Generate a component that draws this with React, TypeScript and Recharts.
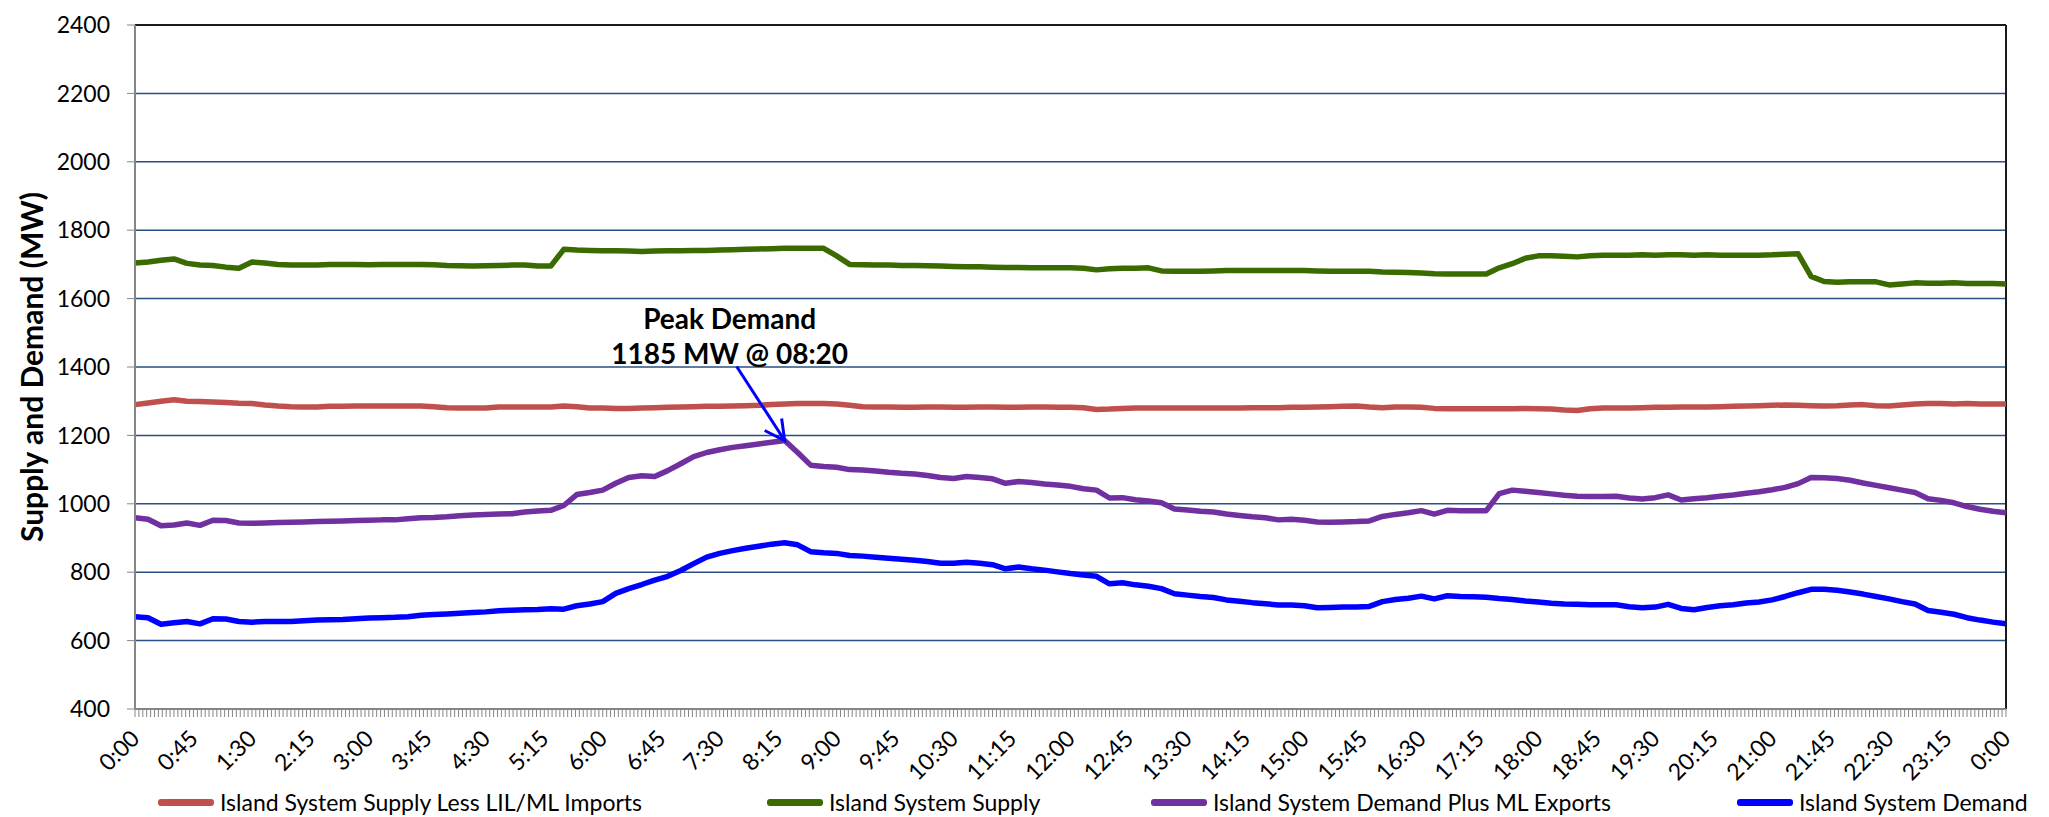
import React from 'react';
import { LineChart, Line, XAxis, YAxis, CartesianGrid, ReferenceLine, ReferenceDot, Label } from 'recharts';

// readings every 10 minutes, 0:00 to 0:00 next day
const SAMPLE_STEP = 10;

const supplyLessImports = [
  1290, 1295, 1300, 1304, 1300, 1299, 1298, 1296, 1294, 1293,
  1289, 1286, 1284, 1283, 1283, 1285, 1285, 1286, 1286, 1286,
  1286, 1286, 1286, 1284, 1281, 1280, 1280, 1280, 1283, 1283,
  1283, 1283, 1283, 1286, 1284, 1280, 1280, 1279, 1279, 1280,
  1281, 1282, 1283, 1284, 1285, 1285, 1286, 1287, 1288, 1290,
  1292, 1293, 1293, 1293, 1292, 1288, 1284, 1283, 1283, 1282,
  1282, 1283, 1283, 1282, 1282, 1283, 1283, 1282, 1282, 1283,
  1283, 1282, 1282, 1281, 1276, 1277, 1279, 1280, 1280, 1280,
  1280, 1280, 1280, 1280, 1280, 1280, 1281, 1281, 1281, 1282,
  1282, 1283, 1284, 1285, 1286, 1283, 1281, 1283, 1283, 1282,
  1279, 1278, 1278, 1278, 1278, 1278, 1278, 1279, 1278, 1277,
  1274, 1273, 1278, 1280, 1280, 1280, 1281, 1282, 1282, 1283,
  1283, 1283, 1284, 1285, 1286, 1287, 1288, 1289, 1288, 1287,
  1286, 1287, 1289, 1290, 1287, 1286, 1289, 1292, 1293, 1293,
  1292, 1293, 1292, 1292, 1292,
];

const supply = [
  1704, 1707, 1712, 1716, 1703, 1698, 1697, 1692, 1689, 1707,
  1704, 1700, 1698, 1698, 1698, 1700, 1700, 1700, 1699, 1700,
  1700, 1700, 1700, 1699, 1697, 1696, 1695, 1696, 1697, 1698,
  1698, 1695, 1695, 1744, 1742, 1741, 1740, 1740, 1739, 1738,
  1739, 1740, 1740, 1741, 1741, 1742, 1743, 1744, 1745, 1746,
  1747, 1747, 1747, 1747, 1725, 1700, 1699, 1698, 1698, 1697,
  1697, 1696, 1695, 1694, 1693, 1693, 1692, 1691, 1691, 1690,
  1690, 1690, 1690, 1689, 1684, 1687, 1689, 1689, 1690, 1681,
  1680, 1680, 1680, 1681, 1682, 1682, 1682, 1682, 1682, 1682,
  1682, 1681, 1680, 1680, 1680, 1680, 1678, 1677, 1676, 1675,
  1673, 1672, 1672, 1672, 1672, 1690, 1702, 1718, 1725, 1725,
  1724, 1722, 1725, 1727, 1727, 1727, 1728, 1727, 1728, 1728,
  1727, 1728, 1727, 1727, 1727, 1727, 1728, 1730, 1731, 1665,
  1650, 1648, 1649, 1649, 1649, 1640, 1643, 1646, 1645, 1645,
  1646, 1644, 1644, 1644, 1643,
];

const demandPlusExports = [
  959, 955, 936, 938, 944, 937, 952, 951, 944, 943,
  944, 945, 946, 947, 948, 949, 950, 951, 952, 953,
  953, 956, 959, 960, 962, 965, 967, 969, 970, 971,
  976, 979, 981, 995, 1027, 1033, 1040, 1060, 1077, 1082,
  1080, 1097, 1117, 1138, 1150, 1158, 1165, 1170, 1175, 1180,
  1185, 1150, 1113, 1109, 1107, 1100, 1099, 1096, 1092, 1089,
  1087, 1083, 1077, 1074, 1080, 1077, 1073, 1060, 1065, 1062,
  1058, 1055, 1051, 1044, 1040, 1017, 1018, 1012, 1008, 1003,
  985, 982, 978, 976, 970, 966, 962, 959, 953, 955,
  952, 947, 946, 947, 948, 950, 963, 969, 974, 980,
  970, 981, 980, 980, 980, 1030, 1040, 1037, 1033, 1029,
  1025, 1022, 1021, 1021, 1022, 1017, 1014, 1018, 1026, 1011,
  1015, 1018, 1022, 1026, 1031, 1035, 1041, 1048, 1059, 1077,
  1076, 1074, 1069, 1061, 1054, 1047, 1040, 1033, 1015, 1010,
  1003, 992, 984, 978, 974,
];

const demand = [
  670, 667, 648, 652, 656, 649, 664, 663, 656, 654,
  656, 656, 656, 658, 660, 661, 662, 664, 666, 667,
  668, 670, 674, 676, 678, 680, 682, 684, 687, 689,
  690, 691, 693, 692, 702, 707, 714, 738, 752, 764,
  777, 788, 805, 825, 844, 855, 863, 870, 876, 882,
  886, 880, 860, 857, 855, 849, 847, 844, 841, 838,
  835, 831, 826, 826, 829, 826, 822, 810, 815, 810,
  806, 801, 796, 792, 788, 766, 769, 763, 759, 752,
  737, 733, 729, 726, 719, 715, 711, 708, 704, 704,
  702, 696, 697, 698, 698, 700, 714, 720, 724, 730,
  722, 731, 729, 728, 727, 723, 720, 716, 713, 709,
  707, 706, 705, 705, 705, 699, 696, 698, 706, 694,
  690, 697, 702, 705, 710, 713, 719, 729, 740, 750,
  750, 747, 742, 736, 729, 722, 714, 707, 688, 683,
  677, 667, 660, 654, 649,
];

// labelled ticks every 45 minutes
const LABEL_STEP = 45;
const X_TICK_LABELS = [
  '0:00', '0:45', '1:30', '2:15', '3:00', '3:45', '4:30', '5:15', '6:00', '6:45', '7:30',
  '8:15', '9:00', '9:45', '10:30', '11:15', '12:00', '12:45', '13:30', '14:15', '15:00',
  '15:45', '16:30', '17:15', '18:00', '18:45', '19:30', '20:15', '21:00', '21:45', '22:30',
  '23:15', '0:00',
];
const Y_TICKS = [400, 600, 800, 1000, 1200, 1400, 1600, 1800, 2000, 2200, 2400];

const PEAK_MINUTE = 500;
const PEAK_VALUE = 1185;
const PEAK_TEXT = ['Peak Demand', '1185 MW @ 08:20'];

const SERIES = [
  { key: 'supplyLessImports', name: 'Island System Supply Less LIL/ML Imports', color: '#C0504D' },
  { key: 'supply', name: 'Island System Supply', color: '#3A6B00' },
  { key: 'demandPlusExports', name: 'Island System Demand Plus ML Exports', color: '#7030A0' },
  { key: 'demand', name: 'Island System Demand', color: '#0000FF' },
];

const data = demand.map((_, i) => ({
  t: i * SAMPLE_STEP,
  supplyLessImports: supplyLessImports[i],
  supply: supply[i],
  demandPlusExports: demandPlusExports[i],
  demand: demand[i],
}));

const DAY = (X_TICK_LABELS.length - 1) * LABEL_STEP;
const minorTicks: number[] = [];
for (let m = 0; m <= DAY; m += 3) minorTicks.push(m);

const FONT = 'Lato, "Noto Sans", sans-serif';
const AXIS_GREY = '#868686';
const GRID = '#2A4F82';

function TimeTick(props: any) {
  const { x, y, payload } = props;
  const idx = payload.value / LABEL_STEP;
  if (!Number.isInteger(idx)) return null;
  const ax = x + 6;
  const ay = y + 21;
  return (
    <text x={ax} y={ay} transform={`rotate(-45 ${ax} ${ay})`} textAnchor="end"
      fontFamily={FONT} fontSize={23} fill="#000">
      {X_TICK_LABELS[idx]}
    </text>
  );
}

function PeakCallout(props: any) {
  const { cx, cy } = props;
  const sx = cx - 48;
  const sy = cy - 74;
  return (
    <g>
      <line x1={sx} y1={sy} x2={cx} y2={cy} stroke="#0000FF" strokeWidth={3} />
      <polyline points={`${cx - 3},${cy - 22} ${cx},${cy} ${cx - 20},${cy - 10}`}
        fill="none" stroke="#0000FF" strokeWidth={3} />
      <text x={cx - 55} y={cy - 112} textAnchor="middle" fontFamily={FONT} fontWeight="bold" fontSize={28} fill="#000">
        {PEAK_TEXT[0]}
      </text>
      <text x={cx - 55} y={cy - 77} textAnchor="middle" fontFamily={FONT} fontWeight="bold" fontSize={28} fill="#000">
        {PEAK_TEXT[1]}
      </text>
    </g>
  );
}

const LEGEND_X = [158, 767, 1151, 1737];

function ChartLegend() {
  return (
    <div style={{ position: 'absolute', left: 0, top: 787, width: 2049, height: 30 }}>
      {SERIES.map((s, i) => (
        <div key={s.key} style={{ position: 'absolute', left: LEGEND_X[i], top: 0, display: 'flex', alignItems: 'center', height: 30 }}>
          <div style={{ width: 56, height: 7, background: s.color, borderRadius: 3, marginRight: 6 }} />
          <span style={{ fontFamily: FONT, fontSize: 23, color: '#000', whiteSpace: 'nowrap' }}>{s.name}</span>
        </div>
      ))}
    </div>
  );
}

export default function App() {
  return (
    <div style={{ position: 'absolute', left: 0, top: 0, width: 2049, height: 817, background: '#fff' }}>
      <LineChart width={2049} height={817} data={data} margin={{ top: 25, right: 43, bottom: 0, left: 0 }}>
        <CartesianGrid vertical={false} stroke={GRID} strokeWidth={1.5}
          horizontalValues={Y_TICKS.slice(1, -1)} />
        <XAxis dataKey="t" type="number" domain={[0, DAY]} ticks={minorTicks} interval={0}
          height={108} tickSize={8} tickLine={{ stroke: AXIS_GREY }}
          axisLine={{ stroke: AXIS_GREY, strokeWidth: 2 }} tick={<TimeTick />} />
        <YAxis domain={[400, 2400]} ticks={Y_TICKS} interval={0} width={135} tickSize={8} tickMargin={17}
          tickLine={{ stroke: AXIS_GREY }} axisLine={{ stroke: AXIS_GREY, strokeWidth: 2 }}
          tick={{ fontFamily: FONT, fontSize: 23, fill: '#000' }}>
          <Label content={(p: any) => {
            const vb = p.viewBox || { y: 25, height: 684 };
            const cy = vb.y + vb.height / 2;
            return (
              <text x={31} y={cy} transform={`rotate(-90 31 ${cy})`} textAnchor="middle" dominantBaseline="central"
                fontFamily={FONT} fontWeight="bold" fontSize={30} fill="#000">
                Supply and Demand (MW)
              </text>
            );
          }} />
        </YAxis>
        <ReferenceLine y={2400} stroke="#1a1a1a" strokeWidth={2} />
        <ReferenceLine x={DAY} stroke="#1a1a1a" strokeWidth={2} />
        {SERIES.map((s) => (
          <Line key={s.key} type="linear" dataKey={s.key} name={s.name} stroke={s.color} strokeWidth={5.5}
            strokeLinejoin="round" dot={false} activeDot={false} isAnimationActive={false} />
        ))}
        <ReferenceDot x={PEAK_MINUTE} y={PEAK_VALUE} r={0} ifOverflow="visible" shape={(p: any) => <PeakCallout {...p} />} />
      </LineChart>
      <ChartLegend />
    </div>
  );
}
